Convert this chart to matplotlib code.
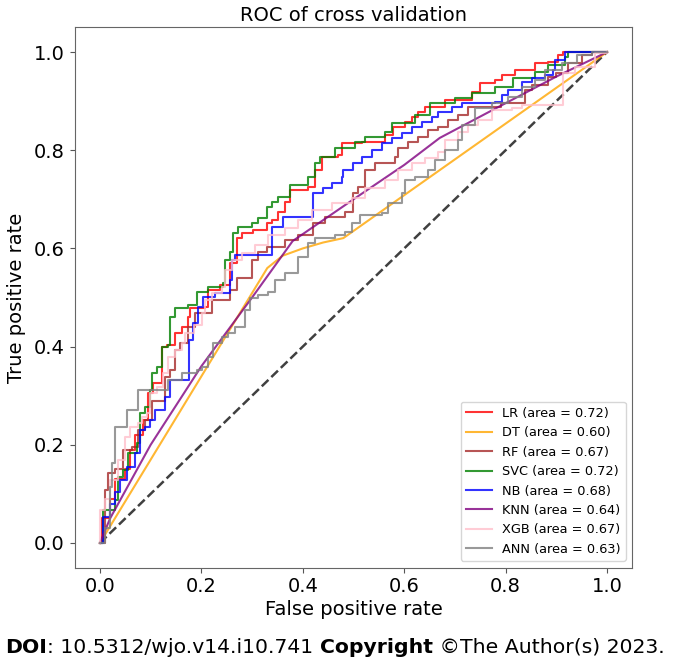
import matplotlib
matplotlib.use("Agg")
import matplotlib.pyplot as plt

# ROC points (fpr, tpr)
lr_fpr = [0, 0.005, 0.02, 0.03, 0.05, 0.06, 0.07, 0.085, 0.095, 0.105, 0.122, 0.132, 0.148, 0.162,
          0.174, 0.178, 0.207, 0.213, 0.237, 0.256, 0.27, 0.28, 0.302, 0.329, 0.339, 0.351, 0.365,
          0.375, 0.41, 0.424, 0.438, 0.469, 0.477, 0.517, 0.562, 0.578, 0.602, 0.615, 0.627, 0.641,
          0.68, 0.734, 0.75, 0.779, 0.793, 0.819, 0.858, 0.884, 0.903, 0.913, 1.0]
lr_tpr = [0, 0.05, 0.09, 0.13, 0.15, 0.19, 0.22, 0.25, 0.305, 0.326, 0.40, 0.403, 0.428, 0.44,
          0.46, 0.479, 0.481, 0.515, 0.525, 0.57, 0.621, 0.631, 0.637, 0.652, 0.658, 0.674, 0.695,
          0.719, 0.725, 0.76, 0.786, 0.79, 0.815, 0.817, 0.831, 0.847, 0.857, 0.868, 0.878, 0.888,
          0.902, 0.918, 0.937, 0.943, 0.953, 0.963, 0.978, 0.98, 0.994, 1.0, 1.0]

dt_fpr = [0, 0.33, 0.36, 0.40, 0.44, 0.48, 1.0]
dt_tpr = [0, 0.56, 0.585, 0.60, 0.612, 0.621, 1.0]

rf_fpr = [0, 0.01, 0.016, 0.03, 0.045, 0.063, 0.075, 0.089, 0.103, 0.128, 0.138, 0.148, 0.158,
          0.174, 0.187, 0.221, 0.256, 0.27, 0.30, 0.312, 0.33, 0.365, 0.39, 0.42, 0.444, 0.483,
          0.499, 0.509, 0.523, 0.542, 0.582, 0.588, 0.607, 0.627, 0.647, 0.667, 0.686, 0.706,
          0.726, 0.79, 0.838, 0.852, 0.884, 0.90, 0.923, 0.95, 0.97, 1.0]
rf_tpr = [0, 0.108, 0.142, 0.15, 0.189, 0.195, 0.23, 0.25, 0.29, 0.338, 0.352, 0.393, 0.407,
          0.44, 0.468, 0.495, 0.515, 0.54, 0.576, 0.593, 0.603, 0.617, 0.627, 0.652, 0.664, 0.674,
          0.713, 0.725, 0.76, 0.774, 0.786, 0.804, 0.817, 0.827, 0.841, 0.847, 0.861, 0.872,
          0.888, 0.896, 0.923, 0.933, 0.949, 0.957, 0.978, 0.994, 1.0, 1.0]

svc_fpr = [0, 0.006, 0.03, 0.035, 0.045, 0.055, 0.073, 0.079, 0.089, 0.099, 0.103, 0.112, 0.122,
           0.134, 0.138, 0.148, 0.174, 0.191, 0.213, 0.243, 0.247, 0.256, 0.262, 0.272, 0.30,
           0.312, 0.329, 0.339, 0.351, 0.375, 0.41, 0.424, 0.434, 0.463, 0.503, 0.523, 0.562,
           0.576, 0.621, 0.651, 0.70, 0.734, 0.779, 0.815, 0.858, 0.884, 0.917, 0.923, 1.0]
svc_tpr = [0, 0.067, 0.088, 0.134, 0.149, 0.183, 0.204, 0.265, 0.277, 0.312, 0.346, 0.358, 0.40,
           0.403, 0.46, 0.479, 0.485, 0.511, 0.521, 0.529, 0.576, 0.593, 0.631, 0.644, 0.652,
           0.662, 0.685, 0.695, 0.705, 0.729, 0.745, 0.774, 0.786, 0.804, 0.817, 0.827, 0.837,
           0.855, 0.872, 0.896, 0.906, 0.916, 0.929, 0.947, 0.959, 0.974, 0.99, 1.0, 1.0]

nb_fpr = [0, 0.006, 0.02, 0.03, 0.039, 0.053, 0.069, 0.079, 0.089, 0.099, 0.108, 0.128, 0.138,
          0.176, 0.183, 0.193, 0.203, 0.227, 0.256, 0.26, 0.266, 0.339, 0.36, 0.42, 0.44, 0.457,
          0.477, 0.48, 0.50, 0.517, 0.536, 0.556, 0.576, 0.596, 0.615, 0.635, 0.655, 0.667,
          0.694, 0.714, 0.779, 0.793, 0.805, 0.832, 0.852, 0.878, 0.893, 0.897, 0.917, 1.0]
nb_tpr = [0, 0.053, 0.08, 0.104, 0.128, 0.155, 0.183, 0.23, 0.236, 0.25, 0.27, 0.297, 0.332,
          0.413, 0.448, 0.481, 0.501, 0.509, 0.536, 0.576, 0.587, 0.644, 0.664, 0.713, 0.723, 0.733,
          0.745, 0.76, 0.774, 0.786, 0.80, 0.815, 0.825, 0.835, 0.847, 0.857, 0.868, 0.878,
          0.888, 0.896, 0.898, 0.912, 0.923, 0.939, 0.947, 0.953, 0.963, 0.984, 1.0, 1.0]

knn_fpr = [0, 0.02, 0.1, 0.2, 0.3, 0.38, 0.5, 0.6, 0.67, 0.78, 0.9, 1.0]
knn_tpr = [0, 0.05, 0.2, 0.36, 0.5, 0.615, 0.7, 0.77, 0.825, 0.885, 0.95, 1.0]

xgb_fpr = [0, 0.0, 0.01, 0.02, 0.035, 0.049, 0.059, 0.075, 0.083, 0.093, 0.098, 0.112, 0.124,
           0.134, 0.148, 0.162, 0.168, 0.185, 0.201, 0.207, 0.221, 0.241, 0.247, 0.26, 0.28,
           0.306, 0.331, 0.365, 0.39, 0.418, 0.457, 0.497, 0.523, 0.562, 0.588, 0.615, 0.641,
           0.667, 0.68, 0.706, 0.726, 0.746, 0.773, 0.813, 0.832, 0.913, 0.937, 0.976, 1.0]
xgb_tpr = [0, 0.067, 0.09, 0.128, 0.17, 0.216, 0.236, 0.244, 0.257, 0.265, 0.305, 0.318, 0.346,
           0.379, 0.393, 0.407, 0.428, 0.445, 0.468, 0.495, 0.509, 0.521, 0.556, 0.576, 0.59,
           0.607, 0.627, 0.641, 0.658, 0.678, 0.692, 0.702, 0.723, 0.739, 0.76, 0.774, 0.784,
           0.796, 0.821, 0.837, 0.851, 0.861, 0.882, 0.886, 0.892, 0.957, 0.97, 0.998, 1.0]

ann_fpr = [0, 0.01, 0.02, 0.024, 0.03, 0.053, 0.075, 0.134, 0.162, 0.191, 0.201, 0.213, 0.223,
           0.241, 0.252, 0.266, 0.286, 0.296, 0.312, 0.331, 0.345, 0.365, 0.39, 0.41, 0.424,
           0.463, 0.483, 0.497, 0.513, 0.556, 0.568, 0.596, 0.602, 0.621, 0.647, 0.661, 0.68,
           0.706, 0.714, 0.74, 0.773, 0.805, 0.832, 0.858, 0.878, 0.911, 0.941, 0.97, 1.0]
ann_tpr = [0, 0.03, 0.114, 0.163, 0.236, 0.27, 0.312, 0.332, 0.346, 0.352, 0.358, 0.379, 0.407,
           0.42, 0.428, 0.44, 0.475, 0.499, 0.505, 0.511, 0.536, 0.55, 0.582, 0.611, 0.621,
           0.627, 0.633, 0.652, 0.668, 0.672, 0.692, 0.713, 0.739, 0.745, 0.76, 0.78, 0.80,
           0.821, 0.851, 0.886, 0.896, 0.908, 0.929, 0.943, 0.963, 0.978, 0.994, 1.0, 1.0]

models = ["LR", "DT", "RF", "SVC", "NB", "KNN", "XGB", "ANN"]
areas = [0.72, 0.60, 0.67, 0.72, 0.68, 0.64, 0.67, 0.63]
colors = ["red", "orange", "brown", "green", "blue", "purple", "pink", "grey"]
curves = [(lr_fpr, lr_tpr), (dt_fpr, dt_tpr), (rf_fpr, rf_tpr), (svc_fpr, svc_tpr),
          (nb_fpr, nb_tpr), (knn_fpr, knn_tpr), (xgb_fpr, xgb_tpr), (ann_fpr, ann_tpr)]
smooth = {"DT", "KNN"}

plt.rcParams["font.family"] = ["DejaVu Sans"]

fig = plt.figure(figsize=(6.75, 6.64), dpi=100)
ax = fig.add_axes([0.1105, 0.1453, 0.8264, 0.8133])

ax.plot([0, 1], [0, 1], "--", color="k", lw=1.8, alpha=0.75)
for name, area, color, (fpr, tpr) in zip(models, areas, colors, curves):
    ds = "default" if name in smooth else "steps-post"
    ax.plot(fpr, tpr, color=color, lw=1.5, alpha=0.8, drawstyle=ds,
            label=f"{name} (area = {area:.2f})")

ax.set_xlim(-0.05, 1.05)
ax.set_ylim(-0.05, 1.05)
ax.set_xticks([0, 0.2, 0.4, 0.6, 0.8, 1.0])
ax.set_yticks([0, 0.2, 0.4, 0.6, 0.8, 1.0])
ax.tick_params(labelsize=14, length=3.5, color="#555555")
for sp in ax.spines.values():
    sp.set_color("#666666")
ax.set_title("ROC of cross validation", fontsize=14, pad=5)
ax.set_xlabel("False positive rate", fontsize=14, labelpad=3)
ax.set_ylabel("True positive rate", fontsize=14, labelpad=6)
ax.legend(loc="lower right", fontsize=9.3)

# footer line, built piece by piece so the bold words sit inline
pieces = [("DOI", "bold"), (": 10.5312/wjo.v14.i10.741 ", "normal"),
          ("Copyright", "bold"), (" \u00a9The Author(s) 2023.", "normal")]
fig.canvas.draw()
renderer = fig.canvas.get_renderer()
x = 5 / 675
for txt, weight in pieces:
    t = fig.text(x, 0.011, txt, fontsize=14.7, fontweight=weight, ha="left", va="bottom")
    bb = t.get_window_extent(renderer)
    x += bb.width / fig.bbox.width

fig.savefig("out.png", dpi=100)
